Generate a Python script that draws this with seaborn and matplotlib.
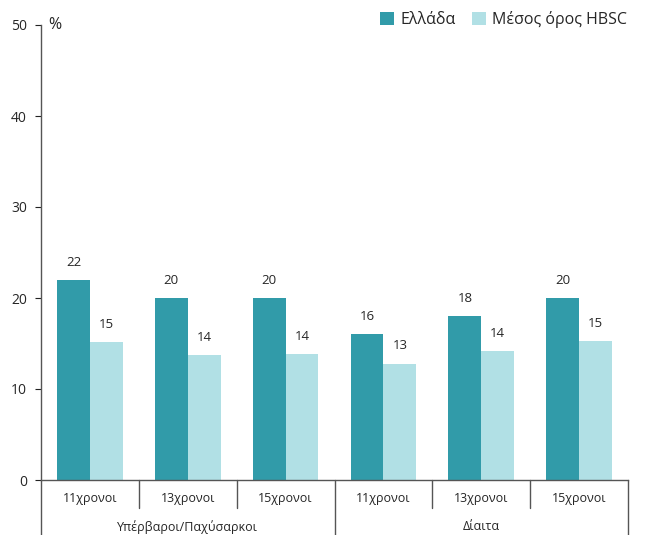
import pandas as pd
import matplotlib.pyplot as plt
import matplotlib.transforms as mtransforms
import seaborn as sns

# data
groups = ["Υπέρβαροι/Παχύσαρκοι", "Δίαιτα"]
ages = ["11χρονοι", "13χρονοι", "15χρονοι"]
series = ["Ελλάδα", "Μέσος όρος HBSC"]
greece = [22, 20, 20, 16, 18, 20]
hbsc = [15.2, 13.7, 13.8, 12.8, 14.2, 15.3]
colors = ["#319BA9", "#B1E0E5"]

cats = [f"{g}|{a}" for g in groups for a in ages]
df = pd.DataFrame({
    "cat": cats * 2,
    "series": [series[0]] * 6 + [series[1]] * 6,
    "value": greece + hbsc,
})

sns.set_style("white")
plt.rcParams["font.family"] = ["Open Sans", "DejaVu Sans"]

fig = plt.figure(figsize=(6.47, 5.35), dpi=100)
ax = fig.add_axes([41 / 647, 55 / 535, (628 - 41) / 647, (480 - 25) / 535])

sns.barplot(data=df, x="cat", y="value", hue="series", order=cats,
            hue_order=series, palette=colors, width=0.67, saturation=1,
            linewidth=0, ax=ax, legend=True)

ax.set_ylim(0, 50)
ax.set_xlim(-0.5, 5.5)
ax.set_yticks(range(0, 51, 10))
ax.tick_params(axis="y", labelsize=10, length=4, color="#222222", pad=6, left=True)
ax.set_xticks([])
ax.set_xlabel("")
ax.set_ylabel("")
for s in ["top", "right"]:
    ax.spines[s].set_visible(False)
for s in ["left", "bottom"]:
    ax.spines[s].set_color("#555555")
    ax.spines[s].set_linewidth(1)

ax.text(0.012, 1.0, "%", transform=ax.transAxes, fontsize=11.5,
        ha="left", va="center")

# value labels
for cont in ax.containers:
    ax.bar_label(cont, labels=[f"{v:.0f}" for v in cont.datavalues],
                 padding=8, fontsize=9.5)

# two-level category axis
trans = mtransforms.blended_transform_factory(ax.transData, ax.transAxes)
for i in range(7):
    x = i - 0.5
    low = -0.122 if i in (0, 3, 6) else -0.062
    ax.plot([x, x], [0, low], transform=trans, color="#555555", lw=1, clip_on=False)
for i, c in enumerate(cats):
    ax.text(i, -0.04, c.split("|")[1], transform=trans, ha="center", va="center",
            fontsize=9)
for j, g in enumerate(groups):
    ax.text(j * 3 + 1, -0.103, g, transform=trans, ha="center", va="center",
            fontsize=9)

leg = ax.legend(loc="upper right", bbox_to_anchor=(1.01, 1.045), ncol=2,
                frameon=False, fontsize=11.5, handlelength=0.9, handleheight=0.9,
                handletextpad=0.4, columnspacing=1.0, borderaxespad=0)

fig.savefig("out.png", dpi=100)
